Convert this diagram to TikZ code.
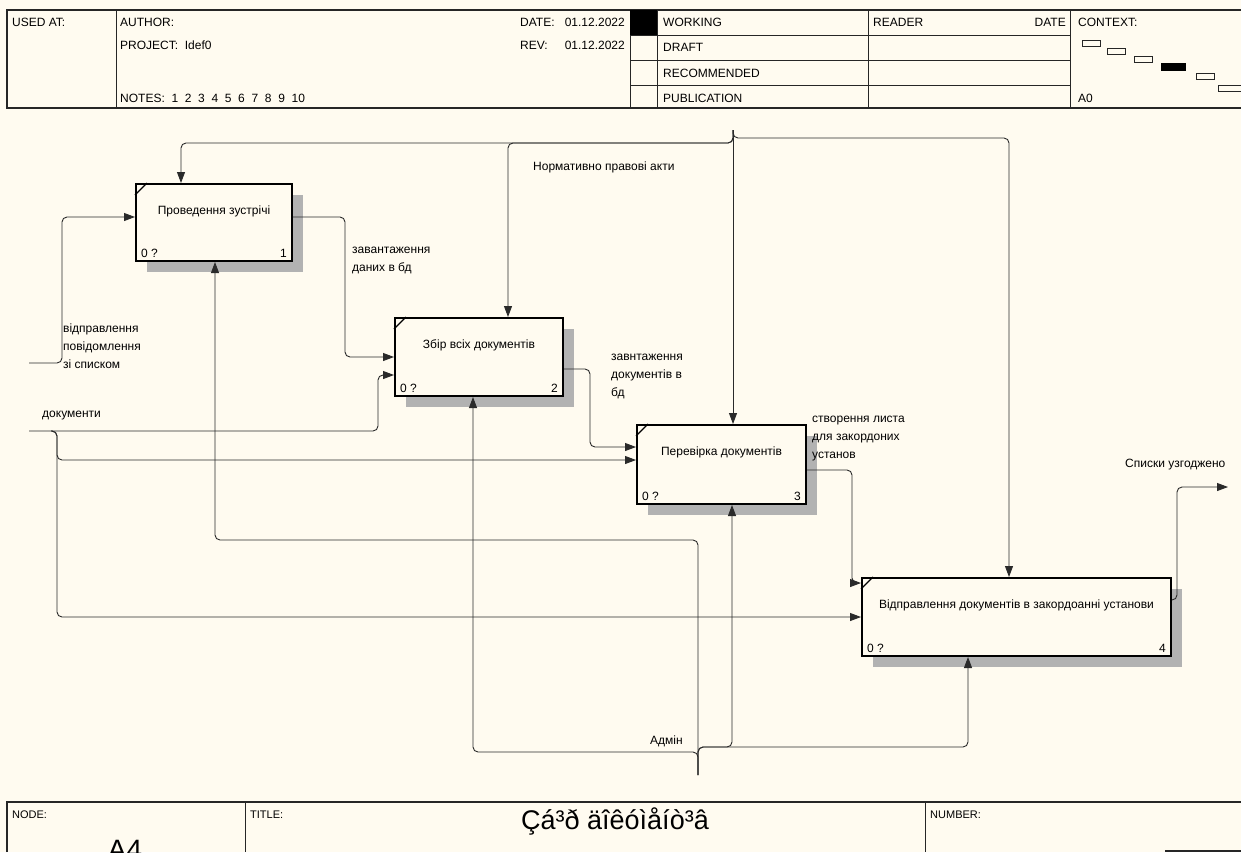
\documentclass[tikz,border=0pt]{standalone}
\usepackage{fontspec}
\setmainfont{Liberation Sans}
\usetikzlibrary{arrows.meta,calc}
\definecolor{carta}{HTML}{FFFBF0}
\definecolor{ombra}{HTML}{B2B2B2}
\definecolor{linea}{HTML}{2A2A2A}

\tikzset{
  freccia/.style={draw=linea, line width=0.9pt, rounded corners=5pt, -{Triangle[length=11pt,width=8pt]}},
  blocco/.style={draw=black, line width=2pt, fill=carta, anchor=north west, inner sep=0pt},
  testo/.style={font=\fontsize{12}{18}\selectfont, inner sep=0pt, align=left, anchor=west},
  cornice/.style={draw=black!85, line width=1.4pt},
  sottile/.style={draw=black!85, line width=0.8pt},
}

\begin{document}
\begin{tikzpicture}[x=1pt, y=-1pt]
        \useasboundingbox (0,0) rectangle (1241,852);
        \clip (0,0) rectangle (1241,852);
        \fill[carta] (0,0) rectangle (1241,852);
        % Intestazione
        \draw[cornice] (1241,10) -- (7,10) -- (7,108) -- (1241,108);
        \foreach \xx in {116,630,657,868,1070} {
                \draw[sottile] (\xx,10) -- (\xx,108);
            }
        \foreach \yy in {35,60,85} {
                \draw[sottile] (630,\yy) -- (1070,\yy);
            }
        \fill (630,10) rectangle (657,35);
        \node[testo] (usato) at (12,22) {USED AT:};
        \node[testo] (autore) at (120,22) {AUTHOR:};
        \node[testo] (progetto) at (120,45) {PROJECT:\ \ Idef0};
        \node[testo] (note) at (120,98) {NOTES:\ \ 1\ \ 2\ \ 3\ \ 4\ \ 5\ \ 6\ \ 7\ \ 8\ \ 9\ \ 10};
        \node[testo] (data) at (520,22) {DATE:};
        \node[testo] (rev) at (520,45) {REV:};
        \node[testo, anchor=east] (data1) at (625,22) {01.12.2022};
        \node[testo, anchor=east] (data2) at (625,45) {01.12.2022};
        \node[testo] (working) at (663,22) {WORKING};
        \node[testo] (draft) at (663,47) {DRAFT};
        \node[testo] (recomm) at (663,73) {RECOMMENDED};
        \node[testo] (public) at (663,98) {PUBLICATION};
        \node[testo] (reader) at (873,22) {READER};
        \node[testo, anchor=east] (rdata) at (1066,22) {DATE};
        \node[testo] (contesto) at (1078,22) {CONTEXT:};
        \node[testo] (azero) at (1078,98) {A0};
        % Schema del contesto
        \foreach \ax/\ay/\bx/\by in {1082/40/1100/46, 1107/48/1125/54, 1134/56/1152/62, 1196/73/1214/79, 1218/85/1241/91} {
                \draw[sottile] (\ax,\ay) rectangle (\bx,\by);
            }
        \fill (1161,63) rectangle (1186,71);
        % Blocchi (nome/x/y/larghezza/altezza/testo)
        \foreach \n/\x/\y/\w/\h/\t in {1/135/183/156/77/Проведення зустрічі,
                2/394/317/168/78/Збір всіх документів,
                3/636/424/169/79/Перевірка документів,
                4/861/577/309/78/Відправлення документів в закордоанні установи} {
                \fill[ombra] (\x+12,\y+12) rectangle (\x+\w+12,\y+\h+12);
                \node[blocco, minimum width=\w pt, minimum height=\h pt] (b\n) at (\x,\y) {};
                \draw[line width=1.2pt] ($(b\n.north west)+(0,12)$) -- ($(b\n.north west)+(12,0)$);
                \node[testo, anchor=center] (t\n) at ($(b\n.north)+(0,28)$) {\t};
                \node[testo, anchor=south west] (z\n) at ($(b\n.south west)+(6,-4)$) {0 ?};
                \node[testo, anchor=south east] (k\n) at ($(b\n.south east)+(-6,-4)$) {\n};
            }
        % Punti liberi
        \coordinate (ingresso) at (29,363);
        \coordinate (doc) at (29,431);
        \coordinate (docsplit) at (51,431);
        \coordinate (nra) at (733,130);
        \coordinate (adm) at (698,775);
        \coordinate (uscita) at (1228,487);
        % Ingressi
        \draw[freccia] (ingresso) -| (62,217) -- (b1.west |- 0,217);
        \draw[freccia] (doc) -| (378,375) -- (b2.west |- 0,375);
        \draw[freccia] (docsplit) -| (57,460) -- (b3.west |- 0,460);
        \draw[freccia] (docsplit) -| (57,617) -- (b4.west |- 0,617);
        % Uscite
        \draw[freccia] (b1.east |- 0,217) -| (345,357) -- (b2.west |- 0,357);
        \draw[freccia] (b2.east |- 0,369) -| (590,447) -- (b3.west |- 0,447);
        \draw[freccia] (b3.east |- 0,470) -| (852,583) -- (b4.west |- 0,583);
        \draw[freccia] (b4.east |- 0,600) -| (1177,487) -- (uscita);
        % Controlli
        \draw[freccia] (nra) |- (181,143) -- (181,0 |- b1.north);
        \draw[freccia] (nra) |- (508,143) -- (508,0 |- b2.north);
        \draw[freccia] (nra) -- (733,0 |- b3.north);
        \draw[freccia] (nra) |- (1009,138) -- (1009,0 |- b4.north);
        % Meccanismi
        \draw[freccia] (adm) -- (698,540) -| (215,0 |- b1.south);
        \draw[freccia] (adm) |- (473,752) -- (473,0 |- b2.south);
        \draw[freccia] (adm) |- (732,747) -- (732,0 |- b3.south);
        \draw[freccia] (adm) |- (968,747) -- (968,0 |- b4.south);
        % Etichette frecce
        \node[testo, anchor=north west] (l1) at (63,324) {відправлення\\повідомлення\\зі списком};
        \node[testo, anchor=north west] (l2) at (352,247) {завантаження\\даних в бд};
        \node[testo] (l3) at (42,416) {документи};
        \node[testo] (l4) at (533,167) {Нормативно правові акти};
        \node[testo, anchor=north west] (l5) at (611,354) {завнтаження\\документів в\\бд};
        \node[testo, anchor=north west] (l6) at (812,416) {створення листа\\для закордоних\\установ};
        \node[testo] (l7) at (1125,465) {Списки узгоджено};
        \node[testo] (l8) at (650,741) {Адмін};
        % Piede
        \draw[cornice] (7,852) -- (7,802) -- (1241,802);
        \foreach \xx in {245,925} {
                \draw[sottile] (\xx,802) -- (\xx,852);
            }
        \draw[cornice] (1165,851) -- (1241,851);
        \node[testo, font=\fontsize{11}{13}\selectfont] (nodo) at (12,815) {NODE:};
        \node[testo, font=\fontsize{11}{13}\selectfont] (titolo) at (250,815) {TITLE:};
        \node[testo, font=\fontsize{11}{13}\selectfont] (numero) at (930,815) {NUMBER:};
        \node[inner sep=0pt, font=\fontsize{27}{27}\selectfont] (nome) at (615,821) {Çá³ð äîêóìåíò³â};
        \node[inner sep=0pt, anchor=north, font=\fontsize{28}{28}\selectfont] (codice) at (125,840) {A4};
    \end{tikzpicture}
\end{document}
